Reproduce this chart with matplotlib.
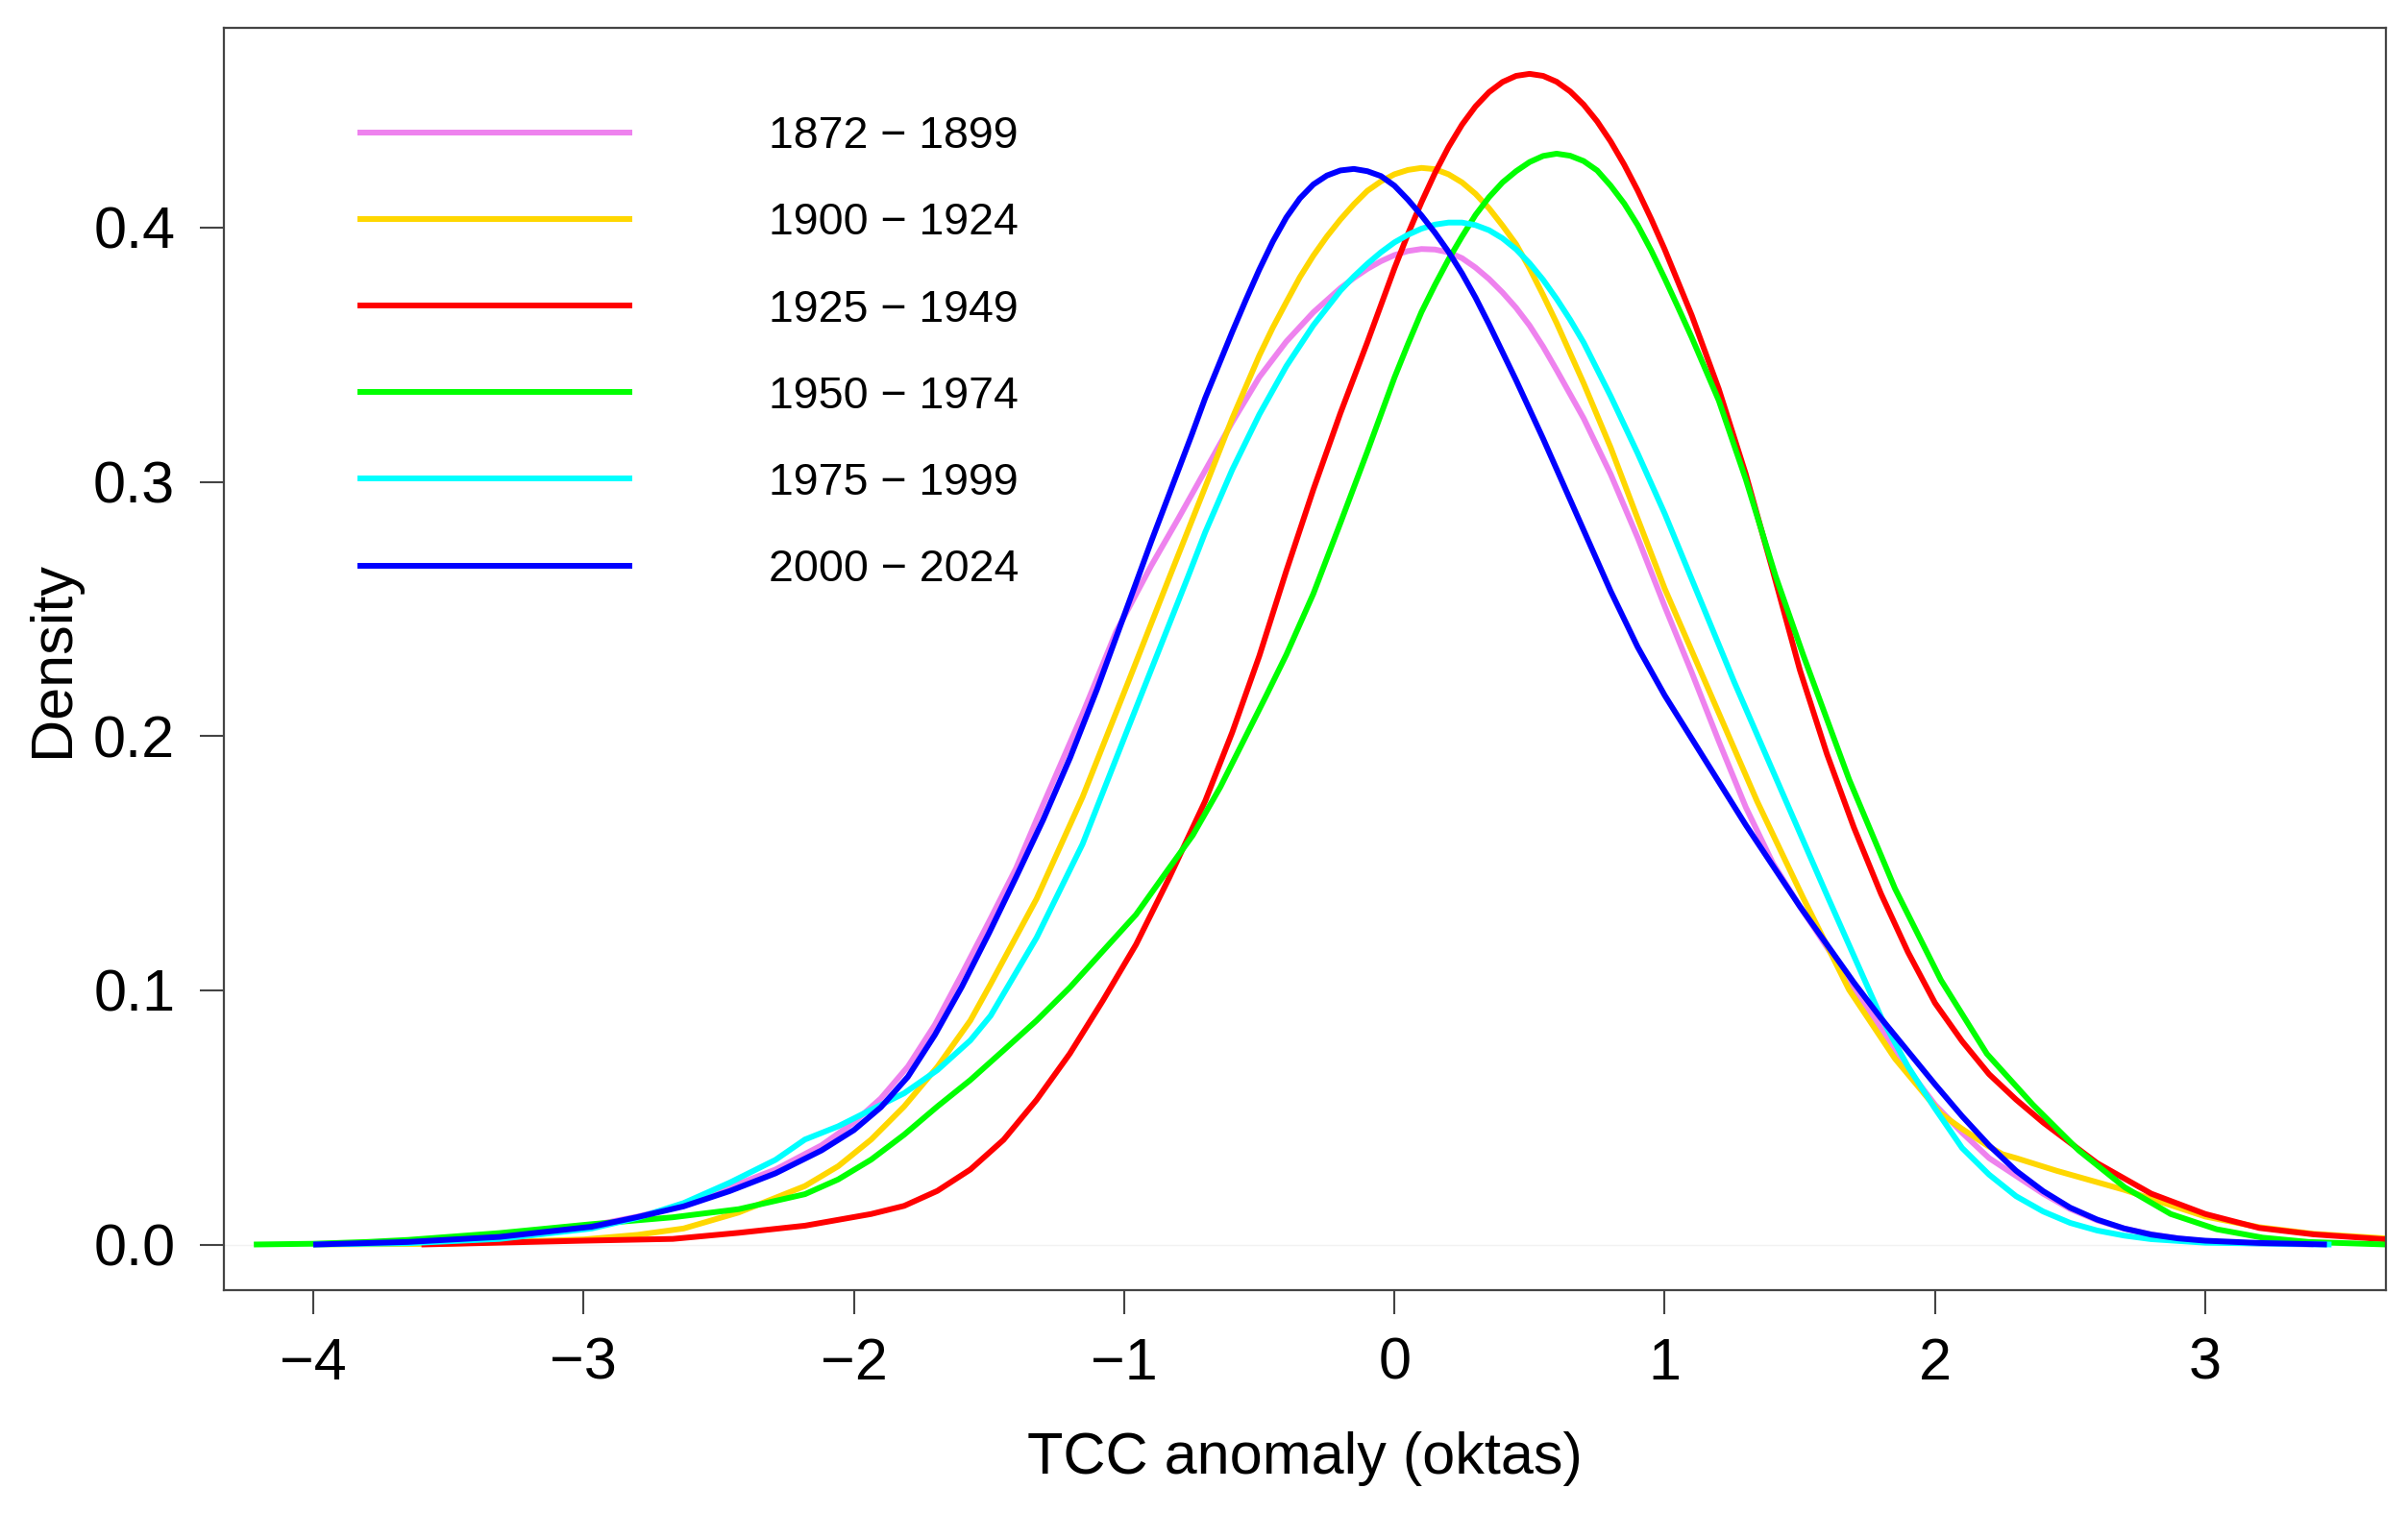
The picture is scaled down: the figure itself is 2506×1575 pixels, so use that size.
import matplotlib
matplotlib.use("Agg")
import matplotlib.pyplot as plt

plt.rcParams['font.family'] = ['Liberation Sans', 'DejaVu Sans']

# density curves, one x/y pair per period
x_1872 = [-4.0, -3.65, -3.31, -2.97, -2.8, -2.63, -2.46, -2.29, -2.12, -2.0, -1.9, -1.8, -1.7,
          -1.6, -1.5, -1.4, -1.324, -1.154, -1.03, -0.9, -0.8, -0.7, -0.6, -0.5, -0.4, -0.3,
          -0.2, -0.15, -0.1, -0.05, 0.0, 0.05, 0.1, 0.15, 0.2, 0.25, 0.3, 0.35, 0.4, 0.45, 0.5,
          0.55, 0.6, 0.7, 0.8, 0.9, 1.0, 1.1, 1.2, 1.3, 1.4, 1.5, 1.6, 1.7, 1.8, 1.9, 2.0, 2.1,
          2.2, 2.3, 2.4, 2.5, 2.6, 2.7, 2.8, 2.9, 3.0, 3.2, 3.4]
y_1872 = [0.0, 0.001, 0.003, 0.0075, 0.011, 0.0155, 0.0225, 0.0295, 0.039, 0.048, 0.0575, 0.070,
          0.0865, 0.1065, 0.127, 0.148, 0.1671, 0.2087, 0.241, 0.267, 0.2855, 0.3045, 0.3235,
          0.3412, 0.3552, 0.3667, 0.3762, 0.3802, 0.3838, 0.3868, 0.3892, 0.3908, 0.3916,
          0.3914, 0.3903, 0.3880, 0.3843, 0.3798, 0.3745, 0.3685, 0.3615, 0.3532, 0.3440,
          0.3250, 0.3030, 0.2780, 0.2510, 0.225, 0.198, 0.172, 0.150, 0.133, 0.117, 0.101,
          0.085, 0.069, 0.055, 0.044, 0.034, 0.027, 0.020, 0.014, 0.0095, 0.0063, 0.004,
          0.0024, 0.0012, 0.0003, 0.0]

x_1900 = [-4.0, -3.5, -3.0, -2.8, -2.63, -2.426, -2.181, -2.058, -1.936, -1.814, -1.691, -1.569,
          -1.494, -1.324, -1.154, -0.984, -0.831, -0.7, -0.6, -0.5, -0.45, -0.4, -0.35, -0.3,
          -0.25, -0.2, -0.15, -0.1, -0.05, 0.0, 0.05, 0.1, 0.15, 0.2, 0.25, 0.3, 0.35, 0.4,
          0.45, 0.5, 0.55, 0.6, 0.7, 0.8, 0.9, 1.0, 1.172, 1.342, 1.512, 1.682, 1.852, 2.022,
          2.1, 2.2, 2.25, 2.3, 2.45, 2.6, 2.7, 2.8, 2.9, 3.0, 3.2, 3.4, 3.67]
y_1900 = [0.0, 0.0003, 0.002, 0.0038, 0.0063, 0.0126, 0.0230, 0.0308, 0.0413, 0.0543, 0.0699,
          0.0881, 0.1025, 0.136, 0.176, 0.2215, 0.2629, 0.298, 0.325, 0.3497, 0.3607, 0.3707,
          0.3805, 0.3890, 0.3965, 0.4032, 0.4092, 0.4145, 0.4182, 0.4210, 0.4227, 0.4235,
          0.4230, 0.4210, 0.4178, 0.4133, 0.4076, 0.4008, 0.3935, 0.3840, 0.3735, 0.3625,
          0.3388, 0.3135, 0.2855, 0.2580, 0.2159, 0.1743, 0.1364, 0.1002, 0.0731, 0.0514,
          0.0455, 0.0385, 0.0355, 0.0340, 0.0290, 0.0245, 0.0215, 0.018, 0.0145, 0.011, 0.0068,
          0.0042, 0.0024]

x_1925 = [-3.6, -3.0, -2.67, -2.426, -2.181, -1.936, -1.814, -1.691, -1.569, -1.446, -1.324,
          -1.201, -1.079, -0.956, -0.834, -0.7, -0.6, -0.5, -0.4, -0.3, -0.2, -0.1, -0.05, 0.0,
          0.05, 0.1, 0.15, 0.2, 0.25, 0.3, 0.35, 0.4, 0.45, 0.5, 0.55, 0.6, 0.65, 0.7, 0.75,
          0.8, 0.85, 0.9, 0.95, 1.0, 1.1, 1.2, 1.3, 1.4, 1.5, 1.6, 1.7, 1.8, 1.9, 2.0, 2.1, 2.2,
          2.3, 2.4, 2.5, 2.6, 2.7, 2.8, 2.9, 3.0, 3.2, 3.4, 3.67]
y_1925 = [0.0, 0.0015, 0.0022, 0.0046, 0.0074, 0.012, 0.0152, 0.0211, 0.0295, 0.0412, 0.0569,
          0.0751, 0.0959, 0.118, 0.1441, 0.1745, 0.2015, 0.2315, 0.265, 0.297, 0.327, 0.355,
          0.3695, 0.384, 0.3975, 0.410, 0.4215, 0.4317, 0.4405, 0.4477, 0.4533, 0.4573,
          0.4597, 0.4605, 0.4597, 0.4574, 0.4536, 0.4484, 0.4418, 0.4339, 0.4248, 0.4146,
          0.4034, 0.3914, 0.3655, 0.3365, 0.303, 0.265, 0.226, 0.193, 0.164, 0.138, 0.115,
          0.095, 0.080, 0.067, 0.057, 0.048, 0.040, 0.032, 0.026, 0.020, 0.016, 0.012, 0.0065,
          0.004, 0.002]

x_1950 = [-4.22, -4.0, -3.8, -3.65, -3.31, -2.97, -2.67, -2.426, -2.181, -2.058, -1.936, -1.814,
          -1.691, -1.569, -1.446, -1.324, -1.201, -1.079, -0.956, -0.834, -0.746, -0.644, -0.474,
          -0.4, -0.3, -0.2, -0.1, 0.0, 0.05, 0.1, 0.15, 0.2, 0.25, 0.3, 0.35, 0.4, 0.45, 0.5,
          0.55, 0.6, 0.65, 0.7, 0.75, 0.8, 0.85, 0.9, 0.95, 1.0, 1.05, 1.1, 1.2, 1.3, 1.41,
          1.512, 1.682, 1.852, 2.022, 2.192, 2.362, 2.532, 2.702, 2.872, 3.042, 3.212, 3.382,
          3.67]
y_1950 = [0.0, 0.0003, 0.001, 0.0018, 0.0045, 0.008, 0.0107, 0.0139, 0.0198, 0.0256, 0.0334,
          0.0432, 0.0543, 0.0647, 0.0764, 0.0881, 0.1011, 0.1154, 0.1298, 0.148, 0.161, 0.180,
          0.216, 0.232, 0.256, 0.2838, 0.312, 0.341, 0.3542, 0.3668, 0.3775, 0.3875, 0.3965,
          0.4050, 0.4120, 0.4178, 0.4222, 0.4258, 0.4282, 0.4291, 0.4283, 0.4262, 0.4225,
          0.4165, 0.4095, 0.4010, 0.3910, 0.3800, 0.3685, 0.3568, 0.3320, 0.3010, 0.263, 0.232,
          0.183, 0.140, 0.104, 0.075, 0.055, 0.037, 0.0225, 0.012, 0.006, 0.0027, 0.001, 0.0]

x_1975 = [-4.0, -3.65, -3.31, -2.97, -2.8, -2.63, -2.46, -2.29, -2.181, -2.058, -1.936, -1.814,
          -1.691, -1.569, -1.494, -1.324, -1.154, -0.984, -0.763, -0.7, -0.6, -0.5, -0.4, -0.3,
          -0.2, -0.15, -0.1, -0.05, 0.0, 0.05, 0.1, 0.15, 0.2, 0.25, 0.3, 0.35, 0.4, 0.45, 0.5,
          0.55, 0.6, 0.65, 0.7, 0.8, 0.9, 1.0, 1.095, 1.257, 1.427, 1.597, 1.7, 1.801, 1.9, 2.0,
          2.1, 2.2, 2.3, 2.4, 2.5, 2.6, 2.7, 2.8, 3.0, 3.467]
y_1975 = [0.0, 0.0005, 0.0022, 0.0063, 0.0105, 0.0163, 0.0243, 0.0333, 0.0413, 0.0465, 0.053,
          0.0595, 0.0686, 0.0803, 0.090, 0.1207, 0.1575, 0.2035, 0.2629, 0.2802, 0.3048,
          0.3265, 0.3455, 0.3616, 0.3752, 0.3808, 0.3858, 0.3903, 0.3942, 0.3972, 0.3996,
          0.4012, 0.4020, 0.4020, 0.4010, 0.3990, 0.3958, 0.3915, 0.3860, 0.3795, 0.3720,
          0.3638, 0.3548, 0.3337, 0.3112, 0.2875, 0.263, 0.2213, 0.1797, 0.1382, 0.1135, 0.0893,
          0.070, 0.0535, 0.038, 0.0275, 0.019, 0.013, 0.0085, 0.0055, 0.0035, 0.0021, 0.0007,
          0.0]

x_2000 = [-4.0, -3.65, -3.31, -2.97, -2.8, -2.63, -2.46, -2.29, -2.12, -2.0, -1.9, -1.8, -1.7,
          -1.6, -1.5, -1.4, -1.3, -1.2, -1.1, -1.0, -0.9, -0.8, -0.75, -0.7, -0.65, -0.6, -0.55,
          -0.5, -0.45, -0.4, -0.35, -0.3, -0.25, -0.2, -0.15, -0.1, -0.05, 0.0, 0.05, 0.1, 0.15,
          0.2, 0.25, 0.3, 0.35, 0.4, 0.45, 0.5, 0.55, 0.6, 0.65, 0.7, 0.8, 0.9, 1.0, 1.1, 1.2,
          1.3, 1.4, 1.5, 1.6, 1.7, 1.8, 1.9, 2.0, 2.1, 2.2, 2.3, 2.4, 2.5, 2.6, 2.7, 2.8, 2.9,
          3.0, 3.2, 3.45]
y_2000 = [0.0, 0.001, 0.003, 0.007, 0.0108, 0.015, 0.021, 0.028, 0.037, 0.045, 0.054, 0.066,
          0.0825, 0.1015, 0.1225, 0.1445, 0.1670, 0.1915, 0.2185, 0.2475, 0.2765, 0.3045,
          0.3185, 0.333, 0.346, 0.359, 0.3715, 0.3835, 0.3945, 0.4040, 0.4115, 0.4170, 0.4205,
          0.4225, 0.4231, 0.4222, 0.4203, 0.4165, 0.4110, 0.4048, 0.3980, 0.3905, 0.3820,
          0.3725, 0.3620, 0.3510, 0.3400, 0.3285, 0.3170, 0.3050, 0.293, 0.281, 0.257, 0.235,
          0.216, 0.199, 0.182, 0.165, 0.149, 0.133, 0.118, 0.103, 0.089, 0.076, 0.063, 0.0505,
          0.039, 0.029, 0.021, 0.0145, 0.0098, 0.0063, 0.0039, 0.0024, 0.0015, 0.0006, 0.0]

periods = ['1872 \u2212 1899', '1900 \u2212 1924', '1925 \u2212 1949',
           '1950 \u2212 1974', '1975 \u2212 1999', '2000 \u2212 2024']
colors = ['#EE82EE', '#FFD700', '#FF0000', '#00FF00', '#00FFFF', '#0000FF']
xs = [x_1872, x_1900, x_1925, x_1950, x_1975, x_2000]
ys = [y_1872, y_1900, y_1925, y_1950, y_1975, y_2000]

x_ticks = [-4, -3, -2, -1, 0, 1, 2, 3]
y_ticks = [0.0, 0.1, 0.2, 0.3, 0.4]

fig = plt.figure(figsize=(25.06, 15.75), dpi=100)
ax = fig.add_axes([0.093, 0.1473, 0.8978, 0.8343])

ax.axhline(0, color='#f2f2f2', lw=1, zorder=1)
for xv, yv, c in zip(xs, ys, colors):
    ax.plot(xv, yv, color=c, lw=4.3, solid_capstyle='butt', solid_joinstyle='round', zorder=2)

ax.set_xlim(-4.3306, 3.668)
ax.set_ylim(-0.01795, 0.4786)
ax.set_xticks(x_ticks)
ax.set_xticklabels(['\u2212%d' % -t if t < 0 else '%d' % t for t in x_ticks])
ax.set_yticks(y_ticks)
ax.set_yticklabels(['%.1f' % t for t in y_ticks])

for s in ax.spines.values():
    s.set_color('#444444')
    s.set_linewidth(1.6)
ax.tick_params(axis='both', length=18, width=1.5, color='#444444', labelsize=44)
ax.tick_params(axis='x', pad=17)
ax.tick_params(axis='y', pad=18.5)

ax.set_xlabel('TCC anomaly (oktas)', fontsize=44)
ax.set_ylabel('Density', fontsize=44)
ax.xaxis.set_label_coords(0.5, -0.112)
ax.yaxis.set_label_coords(-0.0663, 0.5)

# legend, drawn by hand like R's legend(bty="n")
for i, (lab, c) in enumerate(zip(periods, colors)):
    yy = 0.9174 - i * 0.06865
    ax.plot([0.0618, 0.1889], [yy, yy], color=c, lw=4.3, transform=ax.transAxes,
            solid_capstyle='butt')
    ax.text(0.252, yy - 0.0035, lab, fontsize=33.5, va='center', ha='left',
            transform=ax.transAxes)

fig.savefig('out.png', dpi=100)
